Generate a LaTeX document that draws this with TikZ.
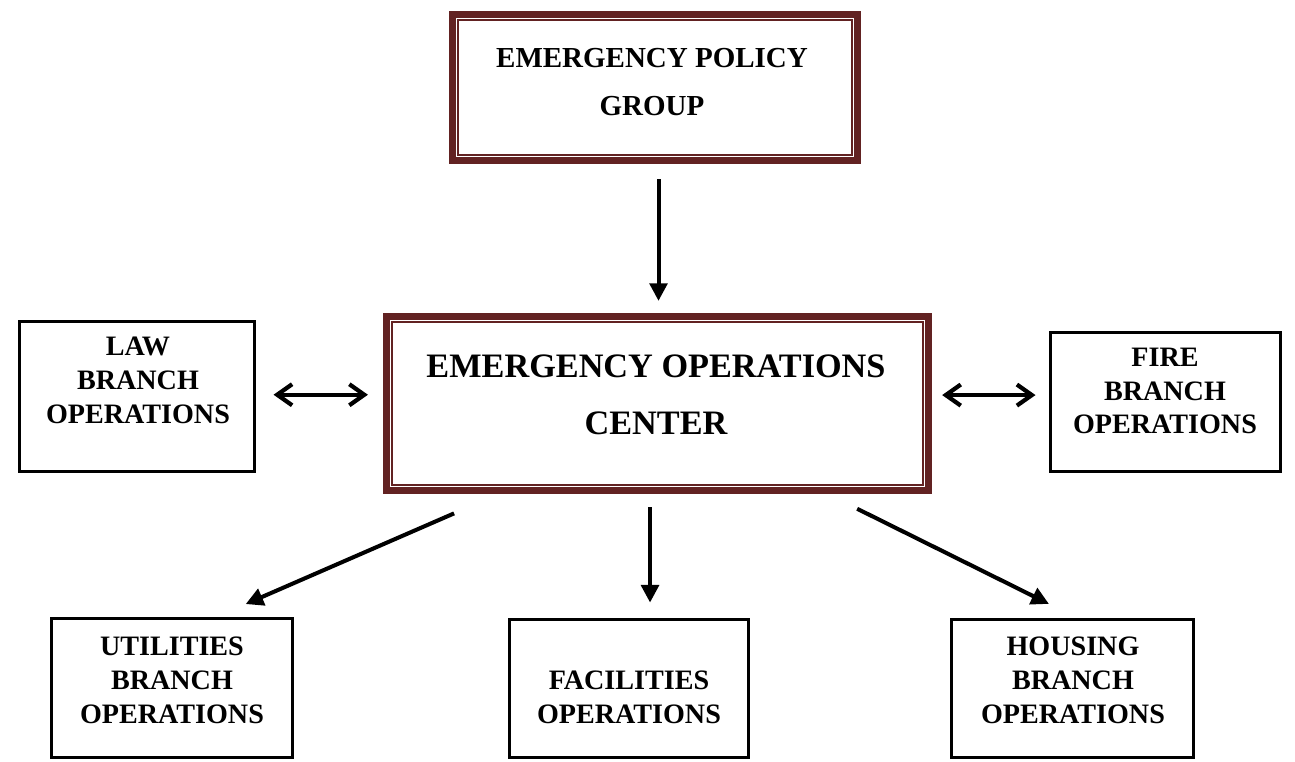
\documentclass[tikz,border=0pt]{standalone}
\usepackage{fontspec}
\setmainfont{Liberation Serif}
\usetikzlibrary{arrows.meta,calc}
\definecolor{eocred}{RGB}{98,34,34}

\begin{document}
\begin{tikzpicture}[
    x=0.02cm, y=-0.02cm, % pixel grid, y runs downwards
    % Frames
    redbox/.style  = {draw=eocred, line width=4.2pt, inner sep=0pt},
    redline/.style = {draw=eocred, line width=1.4pt},
    blkbox/.style  = {draw=black, line width=1.7pt, inner sep=0pt},
    lab/.style     = {font=\bfseries\fontsize{16}{19.3}\selectfont, align=center, inner sep=0pt},
    % Arrows
    arr/.style     = {-{Triangle[length=10pt,width=10pt]}, line width=2.3pt},
    dblarr/.style  = {{Straight Barb[length=8.5pt,width=12pt]}-{Straight Barb[length=8.5pt,width=12pt]}, line width=2.4pt, line cap=round}
  ]
  \useasboundingbox (0,0) rectangle (1295,761);

  % ===== Top: policy group =====
  \node[redbox, minimum width=8.1cm, minimum height=2.92cm] (pol) at (655,87.5) {};
  \draw[redline] ([shift={(0.18cm,-0.18cm)}]pol.north west) rectangle ([shift={(-0.18cm,0.18cm)}]pol.south east);
  \node[lab, font=\bfseries\fontsize{16.5}{27.2}\selectfont] (poltxt) at (652,82) {EMERGENCY POLICY\\GROUP};

  % ===== Middle: operations center =====
  \node[redbox, minimum width=10.84cm, minimum height=3.48cm] (eoc) at (657.5,403.5) {};
  \draw[redline] ([shift={(0.18cm,-0.18cm)}]eoc.north west) rectangle ([shift={(-0.18cm,0.18cm)}]eoc.south east);
  \node[lab, font=\bfseries\fontsize{19.5}{32.3}\selectfont] (eoctxt) at (656,394.5) {EMERGENCY OPERATIONS\\CENTER};

  % ===== Branch boxes =====
  \foreach \name/\x/\y/\w/\h in {law/137/396.5/4.7/3.0, fire/1165.5/402/4.6/2.78,
      util/172/688/4.82/2.78, fac/629/688.5/4.78/2.76, hous/1072.5/688.5/4.84/2.76}{
    \node[blkbox, minimum width=\w cm, minimum height=\h cm] (\name) at (\x,\y) {};
  }
  \foreach \name/\x/\y/\txt in {law/138/380/{LAW\\BRANCH\\OPERATIONS},
      fire/1165/391/{FIRE\\BRANCH\\OPERATIONS},
      util/172/680/{UTILITIES\\BRANCH\\OPERATIONS},
      fac/629/697/{FACILITIES\\OPERATIONS},
      hous/1073/680/{HOUSING\\BRANCH\\OPERATIONS}}{
    \node[lab] (\name txt) at (\x,\y) {\txt};
  }

  % ===== Connectors =====
  \draw[arr, shorten <=8.5pt, shorten >=6.8pt] ([xshift=2pt]pol.south) -- ([xshift=2pt]pol.south |- eoc.north);
  \draw[dblarr, shorten <=10pt, shorten >=8.5pt] ([yshift=1pt]law.east) -- ([yshift=1pt]law.east -| eoc.west);
  \draw[dblarr, shorten <=5.7pt, shorten >=7.7pt] ([yshift=4.8pt]eoc.east) -- ([yshift=4.8pt]eoc.east -| fire.west);
  \draw[arr, shorten <=27.4pt, shorten >=18.5pt] ($(eoc.south west)!0.21!(eoc.south east)$) -- ($(util.north west)!0.68!(util.north east)$);
  \draw[arr, shorten <=7.4pt, shorten >=8.8pt] ([xshift=-4.25pt]eoc.south) -- ([xshift=-4.25pt]eoc.south |- fac.north);
  \draw[arr, shorten <=18.7pt, shorten >=18.1pt] ($(eoc.south west)!0.81!(eoc.south east)$) -- ($(hous.north west)!0.52!(hous.north east)$);

\end{tikzpicture}
\end{document}
